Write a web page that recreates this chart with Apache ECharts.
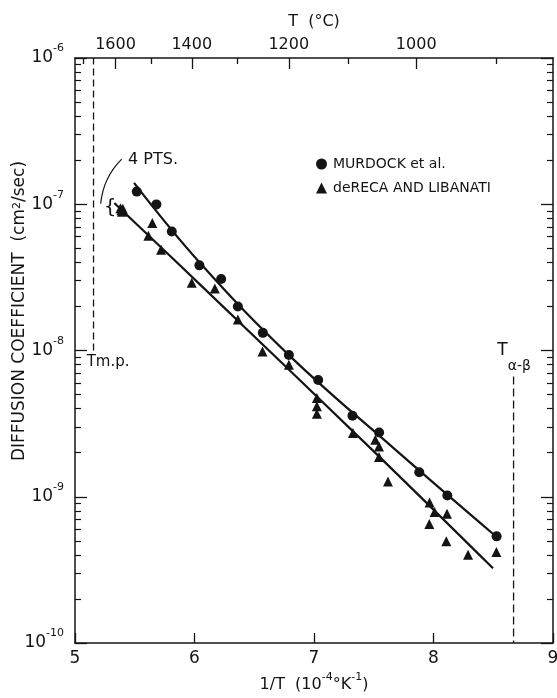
<!DOCTYPE html>
<html><head><meta charset="utf-8">
<script src="https://cdn.jsdelivr.net/npm/echarts@6/dist/echarts.min.js"></script>
<style>html,body{margin:0;padding:0;background:#fff}#c{width:557px;height:698px}</style>
</head><body><div id="c"></div>
<script>
// ---- data (1/T in 1e-4 K^-1, D in cm^2/sec) ----
const murdockX = [5.517, 5.681, 5.810, 6.041, 6.223, 6.363, 6.572, 6.790, 7.035, 7.322, 7.545, 7.881, 8.116, 8.528];
const murdockD = [1.22e-7, 9.98e-8, 6.52e-8, 3.82e-8, 3.08e-8, 2.00e-8, 1.32e-8, 9.31e-9, 6.28e-9, 3.58e-9, 2.75e-9, 1.47e-9, 1.02e-9, 5.36e-10];
const derecaX = [5.380, 5.388, 5.394, 5.400, 5.647, 5.614, 5.720, 5.977, 6.170, 6.363, 6.569, 6.790, 7.024, 7.024, 7.024, 7.326, 7.513, 7.544, 7.544, 7.619, 7.967, 8.009, 8.113, 7.965, 8.107, 8.289, 8.526];
const derecaD = [9.4e-8, 9.1e-8, 8.9e-8, 9.3e-8, 7.45e-8, 6.10e-8, 4.89e-8, 2.90e-8, 2.65e-8, 1.63e-8, 9.86e-9, 8.00e-9, 4.73e-9, 4.15e-9, 3.70e-9, 2.73e-9, 2.45e-9, 2.21e-9, 1.87e-9, 1.27e-9, 9.14e-10, 7.87e-10, 7.66e-10, 6.52e-10, 4.96e-10, 4.02e-10, 4.19e-10];
const murdockFitX = [5.494, 6.047, 6.790, 7.666, 8.526];
const murdockFitD = [1.40e-7, 3.96e-8, 9.3e-9, 2.15e-9, 5.33e-10];
const derecaFitX = [5.329, 6.047, 7.485, 8.498];
const derecaFitD = [1.02e-7, 2.82e-8, 2.10e-9, 3.24e-10];
const meltX = [5.155, 5.155];
const meltD = [1e-8, 1e-6];
const abX = [8.67, 8.67];
const abD = [6.65e-9, 1e-10];
const xTickVals = [5, 6, 7, 8, 9];
const yDecades = [-10, -9, -8, -7, -6];
const tempMajor = [1600, 1400, 1200, 1000];
const tempMinor = [1700, 1500, 1300, 1100, 900];
const seriesNames = ['MURDOCK et al.', 'deRECA AND LIBANATI'];
const yTitle = 'DIFFUSION COEFFICIENT  (cm{s|2}/sec)';

const FONT = 'DejaVu Sans';
const INK = '#141414';
const CLEAR = 'rgba(0,0,0,0)';
const lg = v => Math.log10(v);
const pairs = (xs, ds) => xs.map((x, i) => [x, lg(ds[i])]);
const tToX = t => 1e4 / (t + 273);
const minorLogs = [];
for (let e = yDecades[0]; e < yDecades[yDecades.length - 1]; e++) {
  for (let m = 2; m <= 9; m++) minorLogs.push(e + Math.log10(m));
}

const chart = echarts.init(document.getElementById('c'));
const yBase = (pos) => ({
  type: 'value', position: pos, min: yDecades[0], max: yDecades[yDecades.length - 1], interval: 1,
  splitLine: { show: false }
});
const yMinor = (pos) => Object.assign(yBase(pos), {
  axisLine: { show: true, onZero: false, lineStyle: { color: CLEAR, width: 0 } },
  axisTick: { show: true, inside: true, length: 6, customValues: minorLogs, lineStyle: { color: INK, width: 1.2 } },
  axisLabel: { show: false, customValues: minorLogs }
});
const ySupRich = {
  b: { fontFamily: FONT, fontSize: 17, color: INK, lineHeight: 30 },
  s: { fontFamily: FONT, fontSize: 11, color: INK, verticalAlign: 'top' }
};
const option = {
  backgroundColor: '#fff',
  animation: false,
  grid: { left: 75, right: 4, top: 58, bottom: 55, containLabel: false, outerBoundsMode: 'none' },
  legend: {
    orient: 'vertical', left: 311, top: 152, itemGap: 10,
    itemWidth: 11, itemHeight: 11,
    data: seriesNames,
    textStyle: { fontFamily: FONT, fontSize: 14, color: INK, padding: [0, 0, 0, 1] }
  },
  xAxis: [
    {
      type: 'value', position: 'bottom', min: xTickVals[0], max: xTickVals[xTickVals.length - 1], interval: 1,
      name: '1/T  (10{s|-4}°K{s|-1})', nameLocation: 'middle', nameGap: 28,
      nameTextStyle: {
        fontFamily: FONT, fontSize: 16, color: INK, lineHeight: 26,
        rich: { s: { fontFamily: FONT, fontSize: 11, color: INK, verticalAlign: 'top' } }
      },
      axisLine: { onZero: false, lineStyle: { color: INK, width: 1.5 } },
      axisTick: { inside: true, length: 10, lineStyle: { color: INK, width: 1.3 } },
      axisLabel: { fontFamily: FONT, fontSize: 17, color: INK, margin: 7 },
      splitLine: { show: false }
    },
    {
      type: 'value', position: 'top', min: 5, max: 9,
      name: 'T  (°C)', nameLocation: 'middle', nameGap: 28,
      nameTextStyle: { fontFamily: FONT, fontSize: 16, color: INK },
      axisLine: { onZero: false, lineStyle: { color: INK, width: 1.5 } },
      axisTick: { inside: true, length: 11, customValues: tempMajor.map(tToX), lineStyle: { color: INK, width: 1.3 } },
      axisLabel: {
        customValues: tempMajor.map(tToX), fontFamily: FONT, fontSize: 16, color: INK, margin: 5,
        formatter: v => String(Math.round((1e4 / v - 273) / 100) * 100)
      },
      splitLine: { show: false }
    },
    {
      type: 'value', position: 'top', min: 5, max: 9,
      axisLine: { show: true, onZero: false, lineStyle: { color: CLEAR, width: 0 } },
      axisTick: { show: true, inside: true, length: 6, customValues: tempMinor.map(tToX), lineStyle: { color: INK, width: 1.3 } },
      axisLabel: { show: false, customValues: tempMinor.map(tToX) },
      splitLine: { show: false }
    }
  ],
  yAxis: [
    Object.assign(yBase('left'), {
      axisLine: { onZero: false, lineStyle: { color: INK, width: 1.5 } },
      axisTick: { inside: true, length: 12, lineStyle: { color: INK, width: 1.3 } },
      axisLabel: {
        margin: 11, formatter: v => '{b|10}{s|' + v + '}', rich: ySupRich
      }
    }),
    yMinor('left'),
    Object.assign(yBase('right'), {
      axisLine: { onZero: false, lineStyle: { color: INK, width: 1.5 } },
      axisTick: { inside: true, length: 12, lineStyle: { color: INK, width: 1.3 } },
      axisLabel: { show: false }
    }),
    yMinor('right')
  ],
  series: [
    {
      name: seriesNames[0], type: 'scatter', symbol: 'circle', symbolSize: 10,
      itemStyle: { color: INK, opacity: 1 }, data: pairs(murdockX, murdockD), z: 5
    },
    {
      name: seriesNames[1], type: 'scatter', symbol: 'triangle', symbolSize: 10,
      itemStyle: { color: INK, opacity: 1 }, data: pairs(derecaX, derecaD), z: 5
    },
    {
      type: 'line', smooth: 0.4, showSymbol: false, symbol: 'none',
      lineStyle: { color: INK, width: 2.2 }, data: pairs(murdockFitX, murdockFitD), z: 4
    },
    {
      type: 'line', smooth: 0.4, showSymbol: false, symbol: 'none',
      lineStyle: { color: INK, width: 2.2 }, data: pairs(derecaFitX, derecaFitD), z: 4
    },
    {
      type: 'line', showSymbol: false, symbol: 'none',
      lineStyle: { color: INK, width: 1.3, type: [7, 4] }, data: pairs(meltX, meltD), z: 3
    },
    {
      type: 'line', showSymbol: false, symbol: 'none',
      lineStyle: { color: INK, width: 1.3, type: [8, 4] }, data: pairs(abX, abD), z: 3
    }
  ]
};
chart.setOption(option);

const px = (x, e) => chart.convertToPixel({ gridIndex: 0 }, [x, e]);
const ptsText = px(5.444, -6.695);
const leadA = px(5.391, -6.691), leadC = px(5.235, -6.818), leadB = px(5.215, -6.996);
const brace = px(5.293, -7.024);
const tmp = px(5.098, -8.081);
const tab = px(8.534, -8.05);
const titlePos = px(4.54, -7.73);
chart.setOption({
  graphic: [
    { type: 'text', x: titlePos[0], y: titlePos[1], rotation: Math.PI / 2, z: 10,
      style: {
        text: yTitle, align: 'center', verticalAlign: 'middle',
        fontFamily: FONT, fontSize: 17, fill: INK,
        rich: { s: { fontFamily: FONT, fontSize: 11, fill: INK, verticalAlign: 'top' } }
      } },
    { type: 'text', x: ptsText[0], y: ptsText[1], z: 10,
      style: { text: '4 PTS.', fontFamily: FONT, fontSize: 16, fill: INK, align: 'left', verticalAlign: 'middle' } },
    { type: 'bezierCurve', z: 10,
      shape: { x1: leadA[0], y1: leadA[1], cpx1: leadC[0], cpy1: leadC[1], x2: leadB[0], y2: leadB[1] },
      style: { stroke: INK, lineWidth: 1.2, fill: null } },
    { type: 'text', x: brace[0], y: brace[1], z: 10,
      style: { text: '{', fontFamily: FONT, fontSize: 20, fill: INK, align: 'center', verticalAlign: 'middle' } },
    { type: 'text', x: tmp[0], y: tmp[1], z: 10,
      style: { text: 'Tm.p.', fontFamily: FONT, fontSize: 15, fill: INK, align: 'left', verticalAlign: 'middle' } },
    { type: 'text', x: tab[0], y: tab[1], z: 10,
      style: {
        text: '{t|T}{s|α-β}', align: 'left', verticalAlign: 'middle',
        rich: {
          t: { fontFamily: FONT, fontSize: 17, fill: INK, verticalAlign: 'top' },
          s: { fontFamily: FONT, fontSize: 14, fill: INK, verticalAlign: 'bottom', lineHeight: 32 }
        }
      } }
  ]
});
</script>
</body></html>
